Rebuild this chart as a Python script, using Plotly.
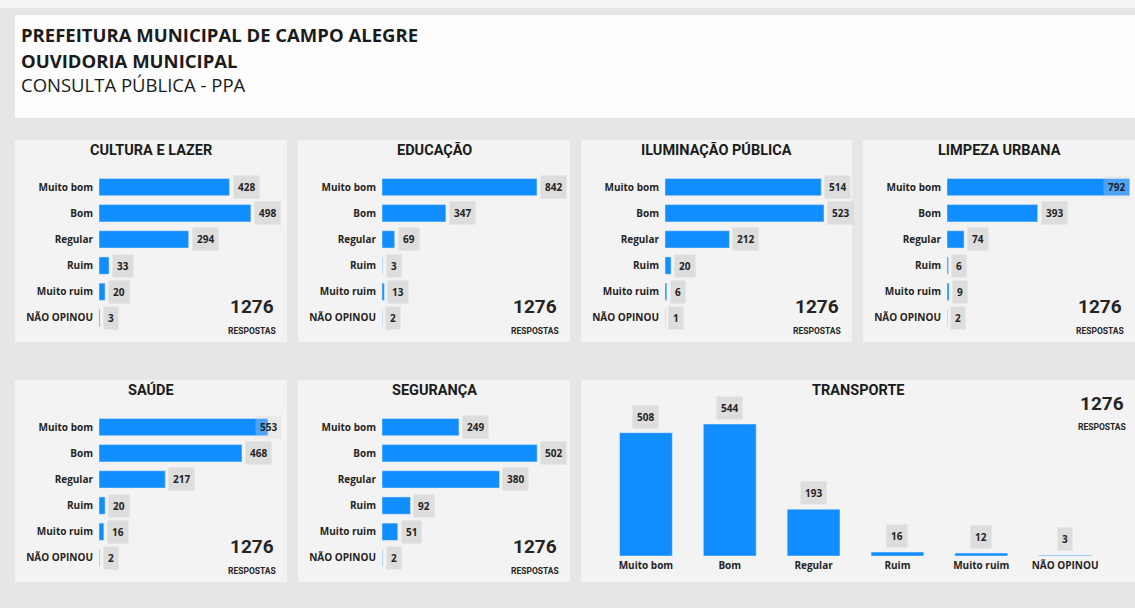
import plotly.graph_objects as go

# dados da consulta publica
categorias = ["Muito bom", "Bom", "Regular", "Ruim", "Muito ruim", "NÃO OPINOU"]

cultura_lazer = [428, 498, 294, 33, 20, 3]
educacao = [842, 347, 69, 3, 13, 2]
iluminacao_publica = [514, 523, 212, 20, 6, 1]
limpeza_urbana = [792, 393, 74, 6, 9, 2]
saude = [553, 468, 217, 20, 16, 2]
seguranca = [249, 502, 380, 92, 51, 2]
transporte = [508, 544, 193, 16, 12, 3]

total_respostas = 1276

W, H = 1135, 608
AZUL = "#118DFF"
TEXTO = "#252423"
FUNDO_PAINEL = "#f3f3f3"
LABEL_BG = "rgba(214,214,214,0.75)"
LABEL_BG_DENTRO = "rgba(214,214,214,0.3)"


def fx(x):
    return x / W


def fy(y):
    return 1 - y / H


# (titulo, valores, caixa do painel em px, maximo do eixo)
paineis = [
    ("CULTURA E LAZER", cultura_lazer, (15, 140, 287, 342), 600),
    ("EDUCAÇÃO", educacao, (298, 140, 570, 342), 994),
    ("ILUMINAÇÃO PÚBLICA", iluminacao_publica, (581, 140, 852, 342), 602),
    ("LIMPEZA URBANA", limpeza_urbana, (863, 140, 1135, 342), 793),
    ("SAÚDE", saude, (15, 380, 287, 582), 599),
    ("SEGURANÇA", seguranca, (298, 380, 570, 582), 592),
]
painel_transporte = ("TRANSPORTE", transporte, (581, 380, 1135, 582), 643)

fig = go.Figure()
shapes = []
annotations = []
layout_axes = {}

# fundo
shapes.append(dict(type="rect", xref="paper", yref="paper", x0=0, x1=1, y0=fy(8), y1=1,
                   fillcolor="#f4f4f4", line_width=0, layer="below"))
shapes.append(dict(type="rect", xref="paper", yref="paper", x0=fx(15), x1=1, y0=fy(118), y1=fy(15),
                   fillcolor="#fdfdfd", line_width=0, layer="below"))

titulo_linhas = [
    ("PREFEITURA MUNICIPAL DE CAMPO ALEGRE", "bold", 35),
    ("OUVIDORIA MUNICIPAL", "bold", 60),
    ("CONSULTA PÚBLICA - PPA", "normal", 84),
]
for txt, peso, ypx in titulo_linhas:
    annotations.append(dict(text=txt, xref="paper", yref="paper", x=fx(19), y=fy(ypx),
                            xanchor="left", yanchor="middle", showarrow=False,
                            font=dict(family="Open Sans", size=18.5, color="#1b1b1b", weight=peso)))


def caixa_painel(box):
    x0, y0, x1, y1 = box
    shapes.append(dict(type="rect", xref="paper", yref="paper", x0=fx(x0), x1=fx(x1),
                       y0=fy(y1), y1=fy(y0), fillcolor=FUNDO_PAINEL, line_width=0, layer="below"))


def total(xc, y_num, y_txt):
    annotations.append(dict(text=str(total_respostas), xref="paper", yref="paper", x=fx(xc), y=fy(y_num),
                            xanchor="center", yanchor="middle", showarrow=False,
                            font=dict(family="Roboto", size=19, color=TEXTO, weight="bold")))
    annotations.append(dict(text="RESPOSTAS", xref="paper", yref="paper", x=fx(xc), y=fy(y_txt),
                            xanchor="center", yanchor="middle", showarrow=False,
                            font=dict(family="Roboto", size=8.5, color=TEXTO, weight="bold")))


rotulo_font = dict(family="Open Sans", size=10, color=TEXTO, weight="bold")
tick_font = dict(family="Open Sans", size=10, color=TEXTO, weight="bold")
titulo_font = dict(family="Roboto", size=14.5, color="#1b1b1b", weight="bold")

for i, (titulo, valores, box, rmax) in enumerate(paineis, start=1):
    x0, y0, x1, y1 = box
    caixa_painel(box)
    xa, ya = f"x{i}", f"y{i}"
    dx0, dx1 = x0 + 84, x0 + 267
    dy0, dy1 = y0 + 34, y0 + 191
    fig.add_trace(go.Bar(x=valores, y=categorias, orientation="h", xaxis=xa, yaxis=ya,
                         marker_color=AZUL, width=0.66, showlegend=False,
                         hovertemplate="%{y}: %{x}<extra>" + titulo + "</extra>"))
    layout_axes[f"xaxis{i}"] = dict(domain=[fx(dx0), fx(dx1)], range=[0, rmax], visible=False,
                                    anchor=ya, fixedrange=True)
    layout_axes[f"yaxis{i}"] = dict(domain=[fy(dy1), fy(dy0)], type="category",
                                    categoryorder="array", categoryarray=categorias,
                                    autorange="reversed", anchor=xa, showgrid=False,
                                    zeroline=False, showline=False, ticks="", ticklabelstandoff=5,
                                    tickfont=tick_font, fixedrange=True)
    annotations.append(dict(text=titulo, xref="paper", yref="paper", x=fx((x0 + x1) / 2), y=fy(y0 + 10),
                            xanchor="center", yanchor="middle", showarrow=False, font=titulo_font))
    largura = dx1 - dx0
    ppu = largura / rmax
    for cat, v in zip(categorias, valores):
        lw = 6 * len(str(v)) + 6
        if v * ppu + 3 + lw > largura + 4:
            ax_x, anc, shift, bg = rmax, "right", 0, LABEL_BG_DENTRO
        else:
            ax_x, anc, shift, bg = v, "left", 3, LABEL_BG
        annotations.append(dict(text=str(v), x=ax_x, y=cat, xref=xa, yref=ya, xanchor=anc,
                                yanchor="middle", xshift=shift, showarrow=False,
                                bgcolor=bg, borderpad=4, font=rotulo_font))
    total(x1 - 35, y0 + 166, y0 + 191)

# transporte (colunas)
titulo, valores, box, rmax = painel_transporte
x0, y0, x1, y1 = box
caixa_painel(box)
i = len(paineis) + 1
xa, ya = f"x{i}", f"y{i}"
fig.add_trace(go.Bar(x=categorias, y=valores, xaxis=xa, yaxis=ya, marker_color=AZUL, width=0.63,
                     showlegend=False, hovertemplate="%{x}: %{y}<extra>" + titulo + "</extra>"))
layout_axes[f"xaxis{i}"] = dict(domain=[fx(604), fx(1107)], type="category", anchor=ya,
                                showgrid=False, zeroline=False, showline=False, ticks="",
                                ticklabelstandoff=2, tickfont=tick_font, fixedrange=True)
layout_axes[f"yaxis{i}"] = dict(domain=[fy(556), fy(400)], range=[0, rmax], visible=False,
                                anchor=xa, fixedrange=True)
for cat, v in zip(categorias, valores):
    annotations.append(dict(text=str(v), x=cat, y=v, xref=xa, yref=ya, xanchor="center",
                            yanchor="bottom", yshift=4, showarrow=False, bgcolor=LABEL_BG, borderpad=4,
                            font=rotulo_font))
annotations.append(dict(text=titulo, xref="paper", yref="paper", x=fx(858), y=fy(y0 + 10),
                        xanchor="center", yanchor="middle", showarrow=False, font=titulo_font))
total(x1 - 33, y0 + 23, y0 + 47)

fig.update_layout(
    width=W,
    height=H,
    margin=dict(l=0, r=0, t=0, b=0),
    paper_bgcolor="#e6e6e6",
    plot_bgcolor="rgba(0,0,0,0)",
    shapes=shapes,
    annotations=annotations,
    bargap=0.3,
    **layout_axes
)

# tira a margem padrao do body para a figura ocupar a janela toda
fig.write_html("out.html", config={"displayModeBar": False},
               post_script="document.body.style.margin='0';document.body.style.overflow='hidden';")
